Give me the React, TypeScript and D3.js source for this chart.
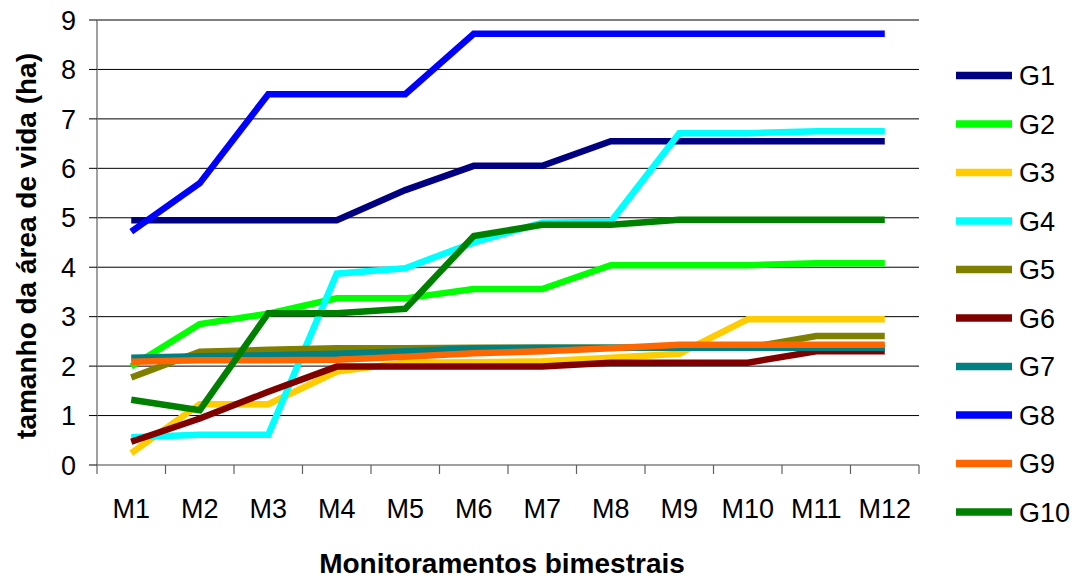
import React from "react";
import * as d3 from "d3";

const months = ["M1", "M2", "M3", "M4", "M5", "M6", "M7", "M8", "M9", "M10", "M11", "M12"];
const yTicks = [0, 1, 2, 3, 4, 5, 6, 7, 8, 9];

const G1 = [4.95, 4.95, 4.95, 4.95, 5.56, 6.05, 6.05, 6.55, 6.55, 6.55, 6.55, 6.55];
const G2 = [1.99, 2.85, 3.06, 3.37, 3.37, 3.56, 3.56, 4.04, 4.04, 4.04, 4.08, 4.08];
const G3 = [0.24, 1.23, 1.23, 1.89, 2.07, 2.08, 2.1, 2.17, 2.25, 2.95, 2.95, 2.95];
const G4 = [0.56, 0.61, 0.61, 3.87, 3.98, 4.5, 4.9, 4.92, 6.71, 6.71, 6.75, 6.75];
const G5 = [1.77, 2.29, 2.33, 2.36, 2.36, 2.37, 2.37, 2.37, 2.37, 2.37, 2.61, 2.61];
const G6 = [0.47, 0.94, 1.48, 1.99, 1.99, 1.99, 1.99, 2.07, 2.07, 2.07, 2.3, 2.3];
const G7 = [2.17, 2.2, 2.22, 2.25, 2.3, 2.36, 2.37, 2.37, 2.37, 2.37, 2.37, 2.37];
const G8 = [4.72, 5.7, 7.5, 7.5, 7.5, 8.72, 8.72, 8.72, 8.72, 8.72, 8.72, 8.72];
const G9 = [2.09, 2.12, 2.12, 2.13, 2.19, 2.26, 2.3, 2.36, 2.43, 2.43, 2.43, 2.43];
const G10 = [1.32, 1.11, 3.07, 3.07, 3.16, 4.63, 4.86, 4.86, 4.96, 4.96, 4.96, 4.96];

const seriesNames = ["G1", "G2", "G3", "G4", "G5", "G6", "G7", "G8", "G9", "G10"];
const seriesValues = [G1, G2, G3, G4, G5, G6, G7, G8, G9, G10];
const seriesColors = [
  "#000080", "#00FF00", "#FFCC00", "#00FFFF", "#808000",
  "#800000", "#008080", "#0000FF", "#FF6600", "#008000",
];

const W = 1083;
const H = 579;
const plot = { left: 97, right: 919, top: 20, bottom: 465 };
const FONT = "'Liberation Sans', Arial, Helvetica, sans-serif";

export default function App() {
  const x = d3.scaleBand<string>().domain(months).range([plot.left, plot.right]);
  const y = d3.scaleLinear().domain([0, 9]).range([plot.bottom, plot.top]);
  const cx = (m: string) => (x(m) as number) + x.bandwidth() / 2;

  const line = d3
    .line<number>()
    .x((_, i) => cx(months[i]))
    .y((v) => y(v));

  const boundaries = months.map((m) => x(m) as number).concat([plot.right]);

  return (
    <svg
      width={W}
      height={H}
      style={{ position: "absolute", left: 0, top: 0, background: "#fff" }}
      fontFamily={FONT}
    >
      <rect x={0} y={0} width={W} height={H} fill="#fff" />
      {/* horizontal gridlines */}
      {yTicks.filter((t) => t > 0).map((t) => (
        <line key={"g" + t} x1={plot.left} x2={plot.right} y1={y(t)} y2={y(t)} stroke="#000" strokeWidth={1} />
      ))}
      {/* y axis */}
      <line x1={plot.left} x2={plot.left} y1={plot.top} y2={plot.bottom} stroke="#808080" strokeWidth={1.5} />
      {yTicks.map((t) => (
        <g key={"yt" + t}>
          <line x1={plot.left - 8} x2={plot.left} y1={y(t)} y2={y(t)} stroke="#000" strokeWidth={1} />
          <text x={76} y={y(t)} dy="0.36em" textAnchor="end" fontSize={27} fill="#000">
            {t}
          </text>
        </g>
      ))}
      {/* x axis */}
      <line x1={plot.left} x2={plot.right} y1={plot.bottom} y2={plot.bottom} stroke="#808080" strokeWidth={1.5} />
      {boundaries.map((b, i) => (
        <line key={"xt" + i} x1={b} x2={b} y1={plot.bottom} y2={plot.bottom + 9} stroke="#606060" strokeWidth={1.2} />
      ))}
      {months.map((m) => (
        <text key={"xl" + m} x={cx(m)} y={518} textAnchor="middle" fontSize={27} fill="#000">
          {m}
        </text>
      ))}
      {/* series */}
      {seriesValues.map((vals, i) => (
        <path
          key={seriesNames[i]}
          d={line(vals) as string}
          fill="none"
          stroke={seriesColors[i]}
          strokeWidth={6.5}
          strokeLinejoin="miter"
          strokeLinecap="butt"
        />
      ))}
      {/* legend */}
      {seriesNames.map((n, i) => {
        const ly = 75.5 + i * 48.5;
        return (
          <g key={"lg" + n}>
            <line x1={956} x2={1012} y1={ly} y2={ly} stroke={seriesColors[i]} strokeWidth={7.5} />
            <text x={1019} y={ly} dy="0.36em" fontSize={27} fill="#000">
              {n}
            </text>
          </g>
        );
      })}
      {/* axis titles */}
      <text x={502} y={573} textAnchor="middle" fontSize={28} fontWeight="bold" fill="#000">
        Monitoramentos bimestrais
      </text>
      <text
        transform="translate(36,246) rotate(-90)"
        textAnchor="middle"
        fontSize={28}
        fontWeight="bold"
        fill="#000"
      >
        tamanho da área de vida (ha)
      </text>
    </svg>
  );
}
